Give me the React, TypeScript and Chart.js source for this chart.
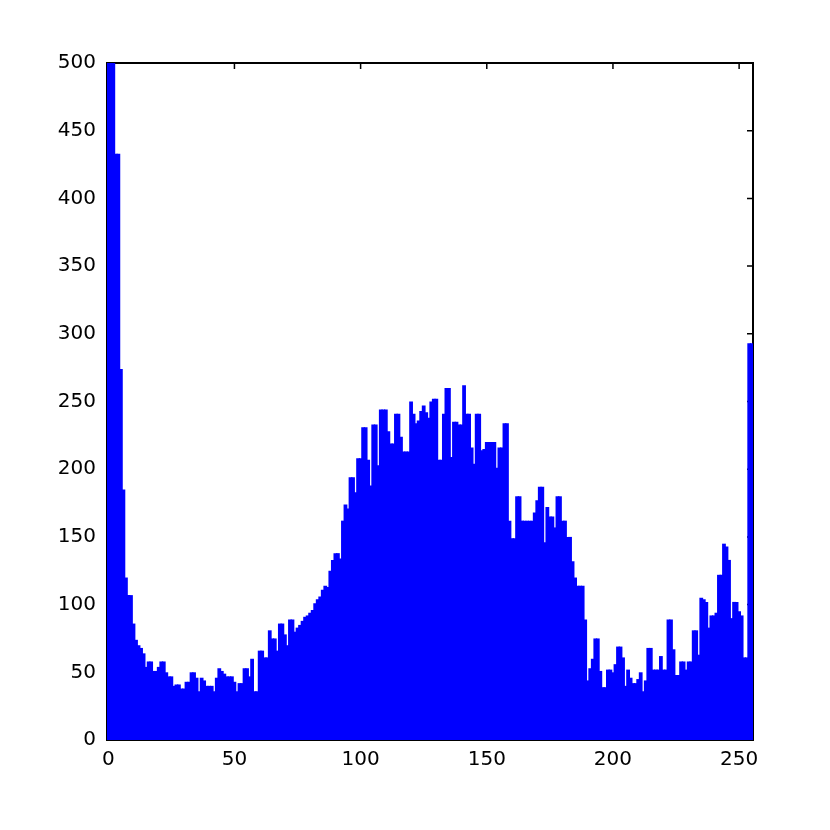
import { useEffect, useRef } from 'react';
import { Chart, registerables } from 'chart.js';

Chart.register(...registerables);

// Gray levels 0..255 (histogram bins)
const LEVELS: number[] = Array.from({ length: 256 }, (_, i) => i);

// Pixel counts per gray level
const COUNTS: number[] = [
  720, 610, 520, 433, 433, 274, 185, 120, 107, 107, 86, 74, 70, 68, 64, 54,
  58, 58, 51, 51, 54, 58, 58, 50, 47, 47, 40, 41, 41, 38, 38, 43,
  43, 50, 50, 46, 36, 46, 44, 40, 40, 40, 36, 46, 53, 51, 49, 47,
  47, 47, 43, 36, 42, 42, 53, 53, 47, 60, 36, 36, 66, 66, 61, 61,
  81, 75, 75, 66, 86, 86, 78, 70, 89, 89, 80, 83, 85, 88, 91, 92,
  94, 96, 101, 104, 106, 111, 114, 113, 125, 133, 138, 138, 134, 162, 174, 171,
  194, 194, 183, 208, 208, 231, 231, 207, 188, 233, 233, 203, 244, 244, 244, 228,
  219, 219, 241, 241, 224, 213, 213, 213, 250, 241, 234, 236, 243, 247, 242, 238,
  250, 252, 252, 207, 207, 241, 260, 260, 209, 235, 235, 233, 233, 262, 241, 241,
  216, 204, 241, 241, 214, 215, 220, 220, 220, 220, 201, 216, 216, 234, 234, 162,
  149, 149, 180, 180, 162, 162, 162, 162, 162, 168, 177, 187, 187, 146, 172, 165,
  165, 157, 180, 180, 162, 162, 150, 150, 132, 120, 114, 114, 114, 89, 44, 53,
  60, 75, 75, 51, 39, 39, 52, 52, 50, 56, 69, 69, 61, 40, 52, 46,
  42, 42, 45, 50, 36, 44, 68, 68, 52, 52, 52, 62, 52, 52, 89, 89,
  67, 48, 48, 58, 58, 52, 58, 58, 81, 81, 63, 105, 104, 102, 83, 92,
  92, 94, 122, 122, 145, 143, 133, 90, 102, 102, 95, 92, 61, 61, 293, 293,
];

const X_TICKS: number[] = [0, 50, 100, 150, 200, 250];
const Y_TICKS: number[] = [0, 50, 100, 150, 200, 250, 300, 350, 400, 450, 500];

const TICK_FONT = { family: "'DejaVu Sans', sans-serif", size: 20 };

const framePlugin = {
  id: 'matlabFrame',
  beforeDatasetsDraw(chart: any) {
    const { ctx, chartArea, scales } = chart;
    const { left, right, top, bottom } = chartArea;
    const xs = scales.x;
    const ys = scales.y;
    const len = 6;
    ctx.save();
    ctx.strokeStyle = '#000';
    ctx.lineWidth = 1.5;
    ctx.beginPath();
    X_TICKS.forEach((v) => {
      const px = xs.getPixelForValue(v);
      ctx.moveTo(px, bottom);
      ctx.lineTo(px, bottom - len);
      ctx.moveTo(px, top);
      ctx.lineTo(px, top + len);
    });
    Y_TICKS.forEach((v) => {
      const py = ys.getPixelForValue(v);
      ctx.moveTo(left, py);
      ctx.lineTo(left + len, py);
      ctx.moveTo(right, py);
      ctx.lineTo(right - len, py);
    });
    ctx.stroke();
    ctx.lineWidth = 2;
    ctx.strokeRect(left, top, right - left, bottom - top);
    ctx.restore();
  },
};

export default function App() {
  const canvasRef = useRef<HTMLCanvasElement | null>(null);

  useEffect(() => {
    const canvas = canvasRef.current;
    if (!canvas) return;
    const chart = new Chart(canvas, {
      type: 'bar',
      data: {
        datasets: [
          {
            data: LEVELS.map((l, i) => ({ x: l, y: COUNTS[i] })),
            backgroundColor: '#0000ff',
            borderWidth: 0,
            barPercentage: 1.5,
            categoryPercentage: 1,
          },
        ],
      },
      options: {
        animation: false,
        responsive: false,
        devicePixelRatio: 1,
        layout: { padding: { top: 63, right: 77, left: 0, bottom: 0 } },
        plugins: { legend: { display: false }, tooltip: { enabled: false } },
        scales: {
          x: {
            type: 'linear',
            offset: false,
            min: -0.5,
            max: 255.5,
            afterBuildTicks: (s: any) => {
              s.ticks = X_TICKS.map((v) => ({ value: v }));
            },
            afterFit: (s: any) => {
              s.height = 90;
            },
            ticks: {
              font: TICK_FONT,
              color: '#000',
              padding: 8,
              autoSkip: false,
              maxRotation: 0,
              callback: (v: any) => String(v),
            },
            grid: { display: false, drawTicks: false },
            border: { display: false },
          },
          y: {
            type: 'linear',
            min: 0,
            max: 500,
            afterBuildTicks: (s: any) => {
              s.ticks = Y_TICKS.map((v) => ({ value: v }));
            },
            afterFit: (s: any) => {
              s.width = 107;
            },
            ticks: {
              font: TICK_FONT,
              color: '#000',
              padding: 11,
              autoSkip: false,
              callback: (v: any) => String(v),
            },
            grid: { display: false, drawTicks: false },
            border: { display: false },
          },
        },
      },
      plugins: [framePlugin],
    });
    return () => chart.destroy();
  }, []);

  return (
    <div style={{ position: 'absolute', left: 0, top: 0, width: 830, height: 830, background: '#fff' }}>
      <canvas ref={canvasRef} width={830} height={830} style={{ display: 'block' }} />
    </div>
  );
}
